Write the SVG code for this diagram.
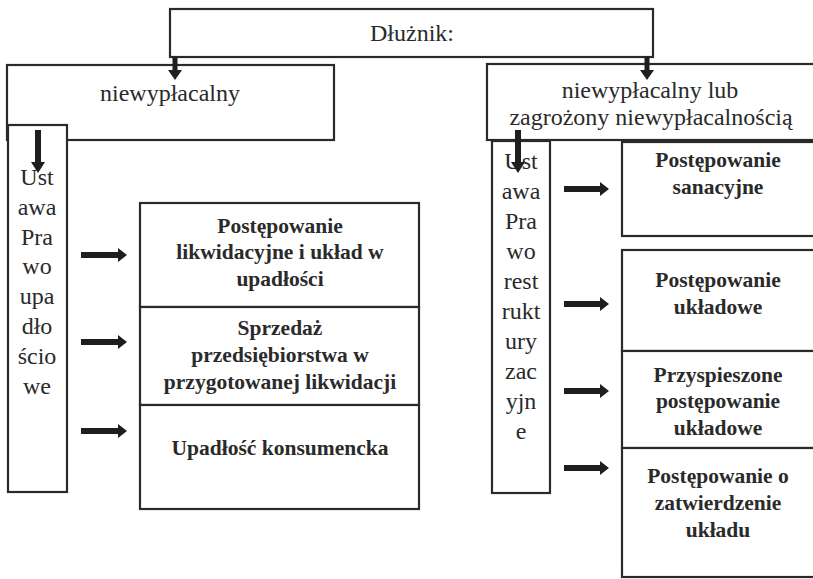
<svg xmlns="http://www.w3.org/2000/svg" width="813" height="579" viewBox="0 0 813 579">
<style>
.box{fill:#fff;stroke:#2a2a2a;stroke-width:2.2}
.t{font-family:"Liberation Serif","Times New Roman",serif;font-size:24px;fill:#2a2a2a;text-anchor:middle}
.b{font-family:"Liberation Serif","Times New Roman",serif;font-size:21.5px;font-weight:bold;fill:#2a2a2a;text-anchor:middle}
.arr{fill:#1e1e1e}
</style>
<rect width="813" height="579" fill="#fff"/>
<g id="dluznik">
<rect class="box" x="170" y="9" width="483" height="48"/>
<text class="t" x="412" y="41">Dłużnik:</text>
</g>
<g id="niewyplacalny">
<rect class="box" x="7" y="65" width="327" height="75"/>
<text class="t" x="170" y="101">niewypłacalny</text>
</g>
<g id="niewyplacalny-lub">
<rect class="box" x="487" y="64" width="330" height="76"/>
<text class="t" x="650" y="98">niewypłacalny lub</text>
<text class="t" x="651" y="125">zagrożony niewypłacalnością</text>
</g>
<g id="ustawa-upadlosciowe">
<rect class="box" x="8" y="125" width="59" height="367"/>
<text class="t" x="37" y="185">Ust</text>
<text class="t" x="37" y="215">awa</text>
<text class="t" x="37" y="245">Pra</text>
<text class="t" x="37" y="274">wo</text>
<text class="t" x="37" y="304">upa</text>
<text class="t" x="37" y="334">dło</text>
<text class="t" x="37" y="364">ścio</text>
<text class="t" x="37" y="394">we</text>
</g>
<g id="ustawa-restrukturyzacyjne">
<rect class="box" x="492" y="141" width="58" height="352"/>
<text class="t" x="521" y="169">Ust</text>
<text class="t" x="521" y="199">awa</text>
<text class="t" x="521" y="229">Pra</text>
<text class="t" x="521" y="259">wo</text>
<text class="t" x="521" y="289">rest</text>
<text class="t" x="521" y="319">rukt</text>
<text class="t" x="521" y="349">ury</text>
<text class="t" x="521" y="379">zac</text>
<text class="t" x="521" y="409">yjn</text>
<text class="t" x="521" y="439">e</text>
</g>
<g id="likwidacyjne">
<rect class="box" x="140" y="203" width="279" height="104"/>
<text class="b" x="280" y="233">Postępowanie</text>
<text class="b" x="280" y="259">likwidacyjne i układ w</text>
<text class="b" x="280" y="286">upadłości</text>
</g>
<g id="sprzedaz">
<rect class="box" x="140" y="307" width="279" height="98"/>
<text class="b" x="280" y="335">Sprzedaż</text>
<text class="b" x="280" y="362">przedsiębiorstwa w</text>
<text class="b" x="280" y="389">przygotowanej likwidacji</text>
</g>
<g id="konsumencka">
<rect class="box" x="140" y="405" width="279" height="104"/>
<text class="b" x="280" y="455">Upadłość konsumencka</text>
</g>
<g id="sanacyjne">
<rect class="box" x="622" y="142" width="196" height="94"/>
<text class="b" x="718" y="167">Postępowanie</text>
<text class="b" x="718" y="194">sanacyjne</text>
</g>
<g id="ukladowe">
<rect class="box" x="622" y="250" width="196" height="101"/>
<text class="b" x="718" y="287">Postępowanie</text>
<text class="b" x="718" y="314">układowe</text>
</g>
<g id="przyspieszone">
<rect class="box" x="622" y="351" width="196" height="97"/>
<text class="b" x="718" y="382">Przyspieszone</text>
<text class="b" x="718" y="408">postępowanie</text>
<text class="b" x="718" y="435">układowe</text>
</g>
<g id="zatwierdzenie">
<rect class="box" x="622" y="448" width="196" height="129"/>
<text class="b" x="718" y="483">Postępowanie o</text>
<text class="b" x="718" y="510">zatwierdzenie</text>
<text class="b" x="718" y="537">układu</text>
</g>
<g id="connectors">
<polygon class="arr" points="172.5,57 177.5,57 177.5,70 182,70 175,80 168,70 172.5,70"/>
<polygon class="arr" points="644.5,57 649.5,57 649.5,70 654,70 647,80 640,70 644.5,70"/>
<polygon class="arr" points="35,130 41,130 41,162 45,162 38,173 31,162 35,162"/>
<polygon class="arr" points="515,130 521,130 521,162 525,162 518,173 511,162 515,162"/>
<polygon class="arr" points="81,252 118,252 118,248 127,255 118,262 118,258 81,258"/>
<polygon class="arr" points="81,339 118,339 118,335 127,342 118,349 118,345 81,345"/>
<polygon class="arr" points="81,428 118,428 118,424 127,431 118,438 118,434 81,434"/>
<polygon class="arr" points="564,186 600,186 600,182 609,189 600,196 600,192 564,192"/>
<polygon class="arr" points="564,301 600,301 600,297 609,304 600,311 600,307 564,307"/>
<polygon class="arr" points="564,388 600,388 600,384 609,391 600,398 600,394 564,394"/>
<polygon class="arr" points="564,465 600,465 600,461 609,468 600,475 600,471 564,471"/>
</g>
</svg>
